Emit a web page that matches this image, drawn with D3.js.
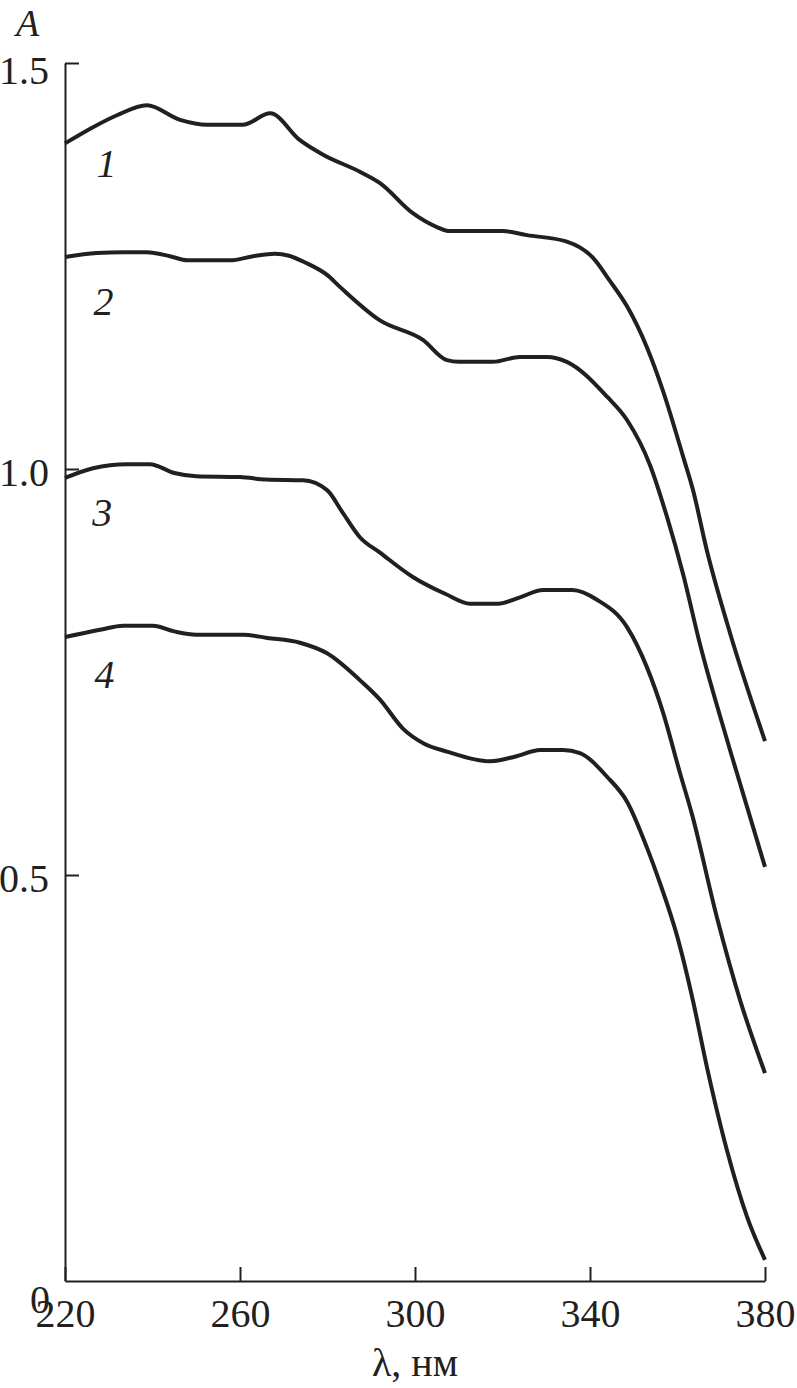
<!DOCTYPE html>
<html>
<head>
<meta charset="utf-8">
<script src="https://cdn.jsdelivr.net/npm/d3@7"></script>
<style>
  body { margin: 0; background: #fff; }
  svg { display: block; }
  text { font-family: "Liberation Serif", "Times New Roman", serif; fill: #231f20; }
</style>
</head>
<body>
<svg id="chart" width="797" height="1388"></svg>
<script>
// spectra: [wavelength nm, absorbance]
const curve1 = [
  [220, 1.401], [226.4, 1.421], [232.0, 1.436], [238.7, 1.448], [246.3, 1.430],
  [252.5, 1.424], [260.7, 1.424], [266.9, 1.438], [273.7, 1.405], [279.0, 1.387],
  [287.4, 1.366], [292.0, 1.352], [299.5, 1.315], [305.0, 1.298], [308.0, 1.293],
  [320.1, 1.293], [325.6, 1.288], [334.7, 1.280], [340.7, 1.260], [344.5, 1.232],
  [348.5, 1.200], [353.0, 1.150], [356.7, 1.096], [361.3, 1.015], [363.5, 0.975],
  [366.7, 0.900], [372.0, 0.798], [380.0, 0.665]
];
const curve2 = [
  [220, 1.261], [227.3, 1.266], [233.3, 1.267], [238.7, 1.267], [244.0, 1.262],
  [248.0, 1.257], [257.7, 1.257], [263.0, 1.262], [268.0, 1.265], [271.0, 1.263],
  [275.0, 1.254], [279.9, 1.239], [282.9, 1.224], [292.0, 1.183], [301.8, 1.159],
  [307.3, 1.134], [310.0, 1.132], [317.8, 1.132], [324.0, 1.138], [330.2, 1.138],
  [334.7, 1.132], [343.9, 1.089], [348.5, 1.060], [353.7, 1.005], [357.6, 0.941],
  [361.3, 0.870], [365.1, 0.785], [372.0, 0.654], [380.0, 0.510]
];
const curve3 = [
  [220, 0.989], [226.4, 1.001], [234.2, 1.006], [239.4, 1.006], [245.0, 0.995],
  [250.0, 0.991], [260.0, 0.990], [266.0, 0.987], [274.4, 0.986], [279.9, 0.974],
  [283.5, 0.946], [287.4, 0.916], [292.0, 0.897], [299.5, 0.867], [307.0, 0.846],
  [312.6, 0.834], [319.0, 0.834], [324.0, 0.842], [329.3, 0.851], [336.0, 0.851],
  [341.6, 0.839], [348.5, 0.805], [353.0, 0.756], [356.7, 0.700], [360.6, 0.625],
  [363.3, 0.575], [369.0, 0.448], [374.3, 0.346], [380.0, 0.256]
];
const curve4 = [
  [220, 0.793], [228.0, 0.802], [233.3, 0.807], [240.1, 0.807], [245.0, 0.800],
  [250.0, 0.796], [260.7, 0.796], [266.2, 0.792], [273.7, 0.786], [279.9, 0.773],
  [287.4, 0.740], [292.0, 0.716], [297.3, 0.680], [302.0, 0.662], [307.3, 0.652],
  [317.1, 0.640], [323.0, 0.646], [328.6, 0.654], [333.8, 0.654], [337.7, 0.650],
  [343.9, 0.621], [348.5, 0.590], [353.0, 0.534], [356.0, 0.490], [359.9, 0.425],
  [363.5, 0.346], [366.7, 0.264], [371.3, 0.161], [375.9, 0.079], [380.0, 0.026]
];
const curves = [curve1, curve2, curve3, curve4];
const curveNames = ["1", "2", "3", "4"];
// where each curve number sits (nm, A)
const labelSpots = [[229.5, 1.36], [228.8, 1.19], [228.5, 0.93], [229, 0.73]];

const xTicks = [220, 260, 300, 340, 380];
const yTicks = [0, 0.5, 1.0, 1.5];

const ink = "#231f20";
const svg = d3.select("#chart");

const x = d3.scaleLinear().domain([220, 380]).range([65, 765]);
const y = d3.scaleLinear().domain([0, 1.5]).range([1281, 63]);

// x axis, ticks pointing into the plot
const xAxis = svg.append("g")
  .attr("transform", `translate(0,${y(0)})`)
  .call(d3.axisBottom(x).tickValues(xTicks).tickSizeInner(-14).tickSizeOuter(0).tickPadding(18).tickFormat(d3.format("d")));

// y axis
const yAxis = svg.append("g")
  .attr("transform", `translate(${x(220)},0)`)
  .call(d3.axisLeft(y).tickValues(yTicks).tickSizeInner(-14).tickSizeOuter(0).tickPadding(16)
    .tickFormat(d => d === 0 ? "0" : d3.format(".1f")(d)));

[xAxis, yAxis].forEach(ax => {
  ax.select(".domain").attr("stroke", ink).attr("stroke-width", 2);
  ax.selectAll(".tick line").attr("stroke", ink).attr("stroke-width", 2);
  ax.selectAll(".tick text")
    .attr("fill", ink)
    .style("font-family", "'Liberation Serif', serif")
    .style("font-size", "40px");
});
yAxis.selectAll(".tick text").attr("dy", "0.42em");
yAxis.selectAll(".tick").filter(d => d === 0).select("text").attr("dy", "0.78em").attr("x", -15);
yAxis.selectAll(".tick").filter(d => d === 1.5).select("text").attr("dy", "0.52em");
yAxis.selectAll(".tick").filter(d => d === 0).select("line").remove();

// curves
const line = d3.line()
  .x(d => x(d[0]))
  .y(d => y(d[1]))
  .curve(d3.curveMonotoneX);

svg.append("g")
  .selectAll("path")
  .data(curves)
  .enter()
  .append("path")
  .attr("d", line)
  .attr("fill", "none")
  .attr("stroke", ink)
  .attr("stroke-width", 4)
  .attr("stroke-linejoin", "round");

// curve numbers
svg.append("g")
  .selectAll("text")
  .data(labelSpots)
  .enter()
  .append("text")
  .attr("x", d => x(d[0]))
  .attr("y", d => y(d[1]))
  .attr("text-anchor", "middle")
  .style("font-size", "40px")
  .style("font-style", "italic")
  .text((d, i) => curveNames[i]);

// axis titles
svg.append("text")
  .attr("x", 16)
  .attr("y", 36)
  .style("font-size", "38px")
  .style("font-style", "italic")
  .text("A");

svg.append("text")
  .attr("x", x(300))
  .attr("y", 1376)
  .attr("text-anchor", "middle")
  .style("font-size", "40px")
  .text("λ, нм");
</script>
</body>
</html>
